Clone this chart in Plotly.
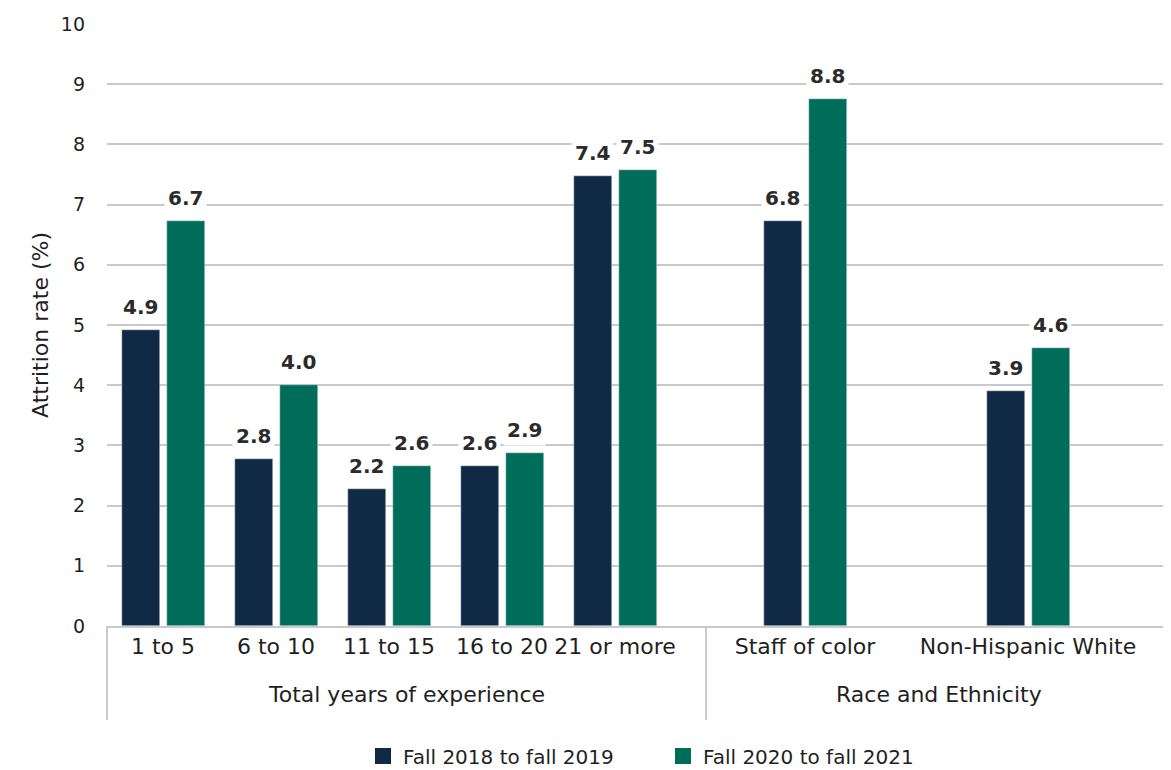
import plotly.graph_objects as go
from plotly.subplots import make_subplots

# ---- data ----
exp_categories = ["1 to 5", "6 to 10", "11 to 15", "16 to 20", "21 or more"]
race_categories = ["Staff of color", "Non-Hispanic White"]
group_labels = ["Total years of experience", "Race and Ethnicity"]
series_names = ["Fall 2018 to fall 2019", "Fall 2020 to fall 2021"]

exp_2018 = [4.92, 2.78, 2.27, 2.65, 7.47]
exp_2020 = [6.72, 4.00, 2.65, 2.87, 7.57]
race_2018 = [6.72, 3.90]
race_2020 = [8.75, 4.62]

exp_2018_labels = ["4.9", "2.8", "2.2", "2.6", "7.4"]
exp_2020_labels = ["6.7", "4.0", "2.6", "2.9", "7.5"]
race_2018_labels = ["6.8", "3.9"]
race_2020_labels = ["8.8", "4.6"]

y_ticks = list(range(0, 11))

# ---- style ----
NAVY = "#102a46"
GREEN = "#006d5b"
GRID = "#c9c9c9"
TEXT = "#1f1f1f"
FONT = "DejaVu Sans"

# page offset (browser body margin)
OFF = 8
PAGE_W, PAGE_H = 1171, 770
W, H = PAGE_W - OFF, PAGE_H - OFF
plot_left_px, plot_right_px = 107, 1171       # page coordinates
plot_top_px, plot_bottom_px = 24, 626
L = plot_left_px - OFF
T = plot_top_px - OFF
R = PAGE_W - plot_right_px
B = H - (plot_bottom_px - OFF)
plot_w = plot_right_px - plot_left_px
plot_h = plot_bottom_px - plot_top_px
split_px = 706
split = (split_px - plot_left_px) / plot_w

fig = make_subplots(rows=1, cols=2, shared_yaxes=True, horizontal_spacing=0,
                    column_widths=[split, 1 - split])

# pixel geometry of bars
bar_px = 38
gap_px = 7
left_spacing = 113.0
right_spacing = 223.0


def add_pair(col, cats, v1, v2, spacing):
    w = bar_px / spacing
    off1 = -(bar_px + gap_px / 2) / spacing
    off2 = (gap_px / 2) / spacing
    fig.add_trace(go.Bar(x=cats, y=v1, name=series_names[0], marker_color=NAVY,
                         width=w, offset=off1, showlegend=False),
                  row=1, col=col)
    fig.add_trace(go.Bar(x=cats, y=v2, name=series_names[1], marker_color=GREEN,
                         width=w, offset=off2, showlegend=False),
                  row=1, col=col)


add_pair(1, exp_categories, exp_2018, exp_2020, left_spacing)
add_pair(2, race_categories, race_2018, race_2020, right_spacing)

# legend entries (bigger square swatches)
for name, color in zip(series_names, [NAVY, GREEN]):
    fig.add_trace(go.Scatter(x=[None], y=[None], mode="markers", name=name,
                             marker=dict(symbol="square", size=16, color=color),
                             showlegend=True), row=1, col=1)

annotations = []


def add_labels(xref, yref, cats, vals, labels, shift):
    for c, v, t in zip(cats, vals, labels):
        annotations.append(dict(
            x=c, y=v, xref=xref, yref=yref, text="<b>%s</b>" % t,
            showarrow=False, xshift=shift, yshift=23, yanchor="middle",
            xanchor="center",
            font=dict(family=FONT, size=20, color="#2b2b2b"),
            bgcolor="white", borderpad=3))


half = (bar_px + gap_px) / 2
add_labels("x", "y", exp_categories, exp_2018, exp_2018_labels, -half)
add_labels("x", "y", exp_categories, exp_2020, exp_2020_labels, half)
add_labels("x2", "y2", race_categories, race_2018, race_2018_labels, -half)
add_labels("x2", "y2", race_categories, race_2020, race_2020_labels, half)

# group labels
grp_y = -(694 - plot_bottom_px) / plot_h
annotations.append(dict(x=split / 2, y=grp_y, xref="paper", yref="paper",
                        text=group_labels[0], showarrow=False, yanchor="middle",
                        xanchor="center",
                        font=dict(family=FONT, size=22, color=TEXT)))
annotations.append(dict(x=(split + 1) / 2, y=grp_y, xref="paper", yref="paper",
                        text=group_labels[1], showarrow=False, yanchor="middle",
                        xanchor="center",
                        font=dict(family=FONT, size=22, color=TEXT)))

# divider lines
div_y = -(720 - plot_bottom_px) / plot_h
shapes = []
for xp in [0, split]:
    shapes.append(dict(type="line", xref="paper", yref="paper", x0=xp, x1=xp,
                       y0=0, y1=div_y, line=dict(color=GRID, width=2)))

# axis ranges in category units
c0_left = 163
left_range = [(plot_left_px - c0_left) / left_spacing, (split_px - c0_left) / left_spacing]
c0_right = 805
right_range = [(split_px - c0_right) / right_spacing, (plot_right_px - c0_right) / right_spacing]

xaxis_common = dict(showline=True, linecolor=GRID, linewidth=2, ticks="",
                    tickfont=dict(family=FONT, size=22, color=TEXT),
                    showgrid=False, zeroline=False, fixedrange=True,
                    automargin=False)
fig.update_xaxes(range=left_range, row=1, col=1, **xaxis_common)
fig.update_xaxes(range=right_range, row=1, col=2, **xaxis_common)

fig.update_yaxes(range=[0, 10], tickvals=y_ticks, showgrid=True, gridcolor=GRID,
                 gridwidth=1.5, zeroline=False, showline=False, ticks="",
                 automargin=False)
fig.update_yaxes(row=1, col=1, ticklabelstandoff=21,
                 tickfont=dict(family=FONT, size=19, color=TEXT),
                 title=dict(text="Attrition rate (%)", standoff=6,
                            font=dict(family=FONT, size=22, color=TEXT)))
fig.update_yaxes(row=1, col=2, showticklabels=False)

legend_center_px = 663
fig.update_layout(
    width=W, height=H,
    margin=dict(l=L, r=R, t=T, b=B, autoexpand=False),
    paper_bgcolor="white", plot_bgcolor="white",
    font=dict(family=FONT, color=TEXT),
    annotations=annotations, shapes=shapes,
    legend=dict(orientation="h", x=(legend_center_px - plot_left_px) / plot_w,
                xanchor="center",
                y=-(756 - plot_bottom_px) / plot_h, yanchor="middle",
                font=dict(family=FONT, size=20, color=TEXT),
                itemwidth=30, tracegroupgap=0, entrywidthmode="pixels",
                entrywidth=255),
    bargap=0,
)

fig.write_html("out.html")
